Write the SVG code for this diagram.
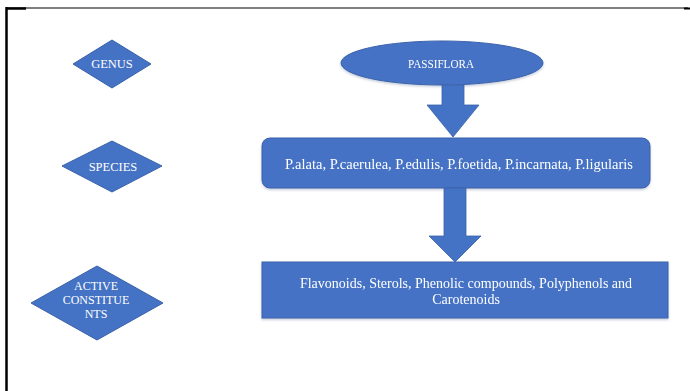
<svg xmlns="http://www.w3.org/2000/svg" width="690" height="391" viewBox="0 0 690 391">
  <defs>
    <style>
      .shape { fill: #4472C4; stroke: #3A62AA; stroke-width: 1; }
      .arrow { fill: #4472C4; stroke: #3A62AA; stroke-width: 0.8; }
      .label { font-family: "Liberation Serif", "Times New Roman", serif; fill: #FFFFFF; text-anchor: middle; }
      .frame { stroke: #000000; fill: none; }
    </style>
    <filter id="soft" x="-5%" y="-5%" width="110%" height="120%">
      <feDropShadow dx="0" dy="1.5" stdDeviation="1.2" flood-color="#7F8FAF" flood-opacity="0.45"/>
    </filter>
  </defs>

  <rect width="690" height="391" fill="#FFFFFF"/>

  <!-- page frame -->
  <g id="frame">
    <line class="frame" x1="6" y1="8" x2="688" y2="8" stroke-width="1.2"/>
    <line class="frame" x1="6" y1="8.5" x2="26" y2="8.5" stroke-width="2.5"/>
    <line class="frame" x1="684" y1="8.5" x2="690" y2="8.5" stroke-width="2"/>
    <line class="frame" x1="6.5" y1="7" x2="6.5" y2="391" stroke-width="2.5"/>
  </g>

  <!-- level labels -->
  <g id="genus">
    <polygon class="shape" points="112,40 151,64 112,88 73,64"/>
    <text class="label" x="112" y="68" font-size="12.5">GENUS</text>
  </g>
  <g id="species">
    <polygon class="shape" points="112,141 162,166 112,192 62,166"/>
    <text class="label" x="113" y="171" font-size="12.5">SPECIES</text>
  </g>
  <g id="active-constituents">
    <polygon class="shape" points="97,266 163,303 97,340 31,303"/>
    <text class="label" x="96" y="290" font-size="12">ACTIVE</text>
    <text class="label" x="96" y="304" font-size="12">CONSTITUE</text>
    <text class="label" x="96" y="318" font-size="12">NTS</text>
  </g>

  <!-- hierarchy content -->
  <g id="passiflora" filter="url(#soft)">
    <ellipse class="shape" cx="442" cy="63" rx="101" ry="22"/>
    <text class="label" x="441" y="68" font-size="13" textLength="66" lengthAdjust="spacingAndGlyphs">PASSIFLORA</text>
  </g>
  <g id="species-list" filter="url(#soft)">
    <rect class="shape" x="262" y="138" width="388" height="50" rx="8" ry="8"/>
    <text class="label" x="459" y="169" font-size="14.5">P.alata, P.caerulea, P.edulis, P.foetida, P.incarnata, P.ligularis</text>
  </g>
  <g id="constituents" filter="url(#soft)">
    <rect class="shape" x="262" y="262" width="406" height="56"/>
    <text class="label" x="466" y="288" font-size="14">Flavonoids, Sterols, Phenolic compounds, Polyphenols and</text>
    <text class="label" x="466" y="304" font-size="14">Carotenoids</text>
  </g>

  <!-- connectors -->
  <g id="connectors">
    <polygon class="arrow" points="442,85 464,85 464,105 479,105 453,137 427,105 442,105"/>
    <polygon class="arrow" points="444,188 466,188 466,236 481,236 455,262 429,236 444,236"/>
  </g>
</svg>
